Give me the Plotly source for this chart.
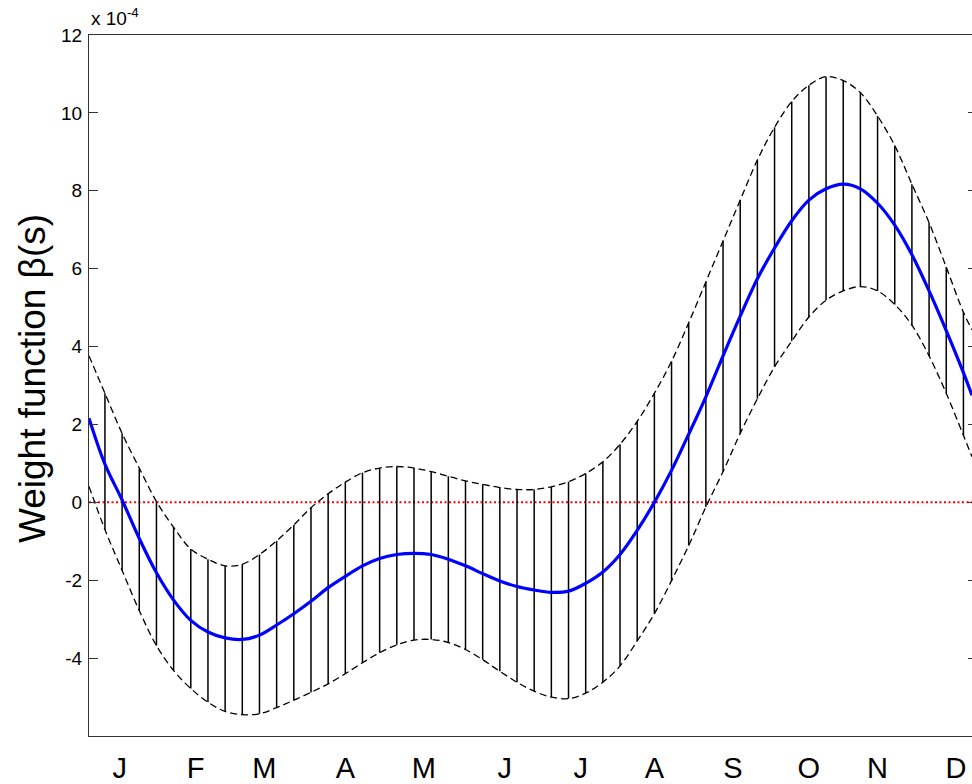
import plotly.graph_objects as go

# ---- data (values in units of 1e-4) ----
curve_days = [0.5, 7, 14, 21, 28, 35, 42, 49, 56, 63, 70, 77, 84, 91,
              98, 105, 112, 119, 126, 133, 140, 147, 154, 161, 168, 175, 182,
              189, 196, 203, 210, 217, 224, 231, 238, 245, 252, 259, 266, 273,
              280, 287, 294, 301, 308, 315, 322, 329, 336, 343, 350, 357, 360.5]

mean_vals = [2.16, 0.98, 0.06, -0.93, -1.81, -2.51, -3.03, -3.33, -3.48, -3.52, -3.41, -3.15, -2.86, -2.54,
             -2.19, -1.90, -1.63, -1.44, -1.34, -1.31, -1.34, -1.46, -1.63, -1.83, -2.02, -2.16, -2.25,
             -2.31, -2.28, -2.08, -1.79, -1.34, -0.72, 0.00, 0.82, 1.75, 2.71, 3.76, 4.78, 5.74,
             6.53, 7.23, 7.76, 8.05, 8.17, 8.05, 7.68, 7.12, 6.36, 5.43, 4.41, 3.33, 2.75]

upper_vals = [3.76, 2.80, 1.77, 0.88, 0.02, -0.64, -1.20, -1.46, -1.63, -1.59, -1.34, -0.99, -0.58, -0.14,
              0.22, 0.52, 0.76, 0.88, 0.92, 0.88, 0.79, 0.67, 0.55, 0.46, 0.38, 0.33, 0.33,
              0.40, 0.53, 0.74, 1.04, 1.49, 2.08, 2.80, 3.62, 4.61, 5.66, 6.71, 7.76, 8.79,
              9.63, 10.29, 10.71, 10.93, 10.83, 10.52, 9.92, 9.16, 8.17, 7.18, 6.04, 4.88, 4.43]

lower_vals = [0.41, -0.70, -1.75, -2.78, -3.68, -4.32, -4.78, -5.13, -5.37, -5.45, -5.43, -5.27, -5.08, -4.88,
              -4.66, -4.40, -4.12, -3.86, -3.66, -3.54, -3.52, -3.60, -3.78, -4.04, -4.34, -4.62, -4.85,
              -5.00, -5.04, -4.90, -4.62, -4.20, -3.56, -2.86, -2.01, -1.11, -0.12, 0.79, 1.77, 2.66,
              3.48, 4.14, 4.76, 5.19, 5.43, 5.54, 5.43, 5.08, 4.55, 3.76, 2.80, 1.72, 1.17]

month_labels = ["J", "F", "M", "A", "M", "J", "J", "A", "S", "O", "N", "D"]
month_pos = [13, 44, 72, 105, 137, 170, 201, 231, 263, 294, 322, 354]

y_ticks = [-4, -2, 0, 2, 4, 6, 8, 10, 12]
y_ticktext = ["-4", "-2", "0", "2", "4", "6", "8", "10", "12"]

x_range = [0.5, 360.5]
y_range = [-6, 12]

FONT = "Liberation Sans, Arial, Helvetica, sans-serif"

# vertical confidence bars at the weekly points (skip the two edge points)
bar_x, bar_y = [], []
for d, lo, hi in zip(curve_days[1:-1], lower_vals[1:-1], upper_vals[1:-1]):
    bar_x += [d, d, None]
    bar_y += [lo, hi, None]

fig = go.Figure()

# zero reference line
fig.add_trace(go.Scatter(x=x_range, y=[0, 0], mode="lines",
                         line=dict(color="#ff0000", width=2, dash="2px,2.5px"),
                         hoverinfo="skip", showlegend=False))

fig.add_trace(go.Scatter(x=bar_x, y=bar_y, mode="lines",
                         line=dict(color="black", width=1.5),
                         hoverinfo="skip", showlegend=False))

for vals in (upper_vals, lower_vals):
    fig.add_trace(go.Scatter(x=curve_days, y=vals, mode="lines",
                             line=dict(color="black", width=1.3, dash="7px,4px",
                                       shape="spline", smoothing=1.0),
                             hoverinfo="skip", showlegend=False))

fig.add_trace(go.Scatter(x=curve_days, y=mean_vals, mode="lines",
                         line=dict(color="#0000ff", width=3.2, shape="spline", smoothing=1.0),
                         showlegend=False))

# invisible trace for right-side tick marks
fig.add_trace(go.Scatter(x=x_range, y=y_range, yaxis="y2", mode="lines",
                         line=dict(width=0), opacity=0, hoverinfo="skip", showlegend=False))

fig.update_layout(
    width=972, height=784,
    margin=dict(l=89, r=0, t=35, b=44),
    paper_bgcolor="white", plot_bgcolor="white",
    font=dict(family=FONT, color="black"),
    xaxis=dict(range=x_range, showgrid=False, zeroline=False,
               showline=True, mirror=True, linecolor="#333", linewidth=1,
               ticks="", tickvals=month_pos, ticktext=month_labels,
               ticklabelstandoff=6,
               tickfont=dict(size=29, family=FONT, color="black")),
    yaxis=dict(range=y_range, showgrid=False, zeroline=False,
               showline=True, mirror=False, linecolor="#333", linewidth=1,
               ticks="inside", ticklen=9, tickcolor="#333",
               tickvals=y_ticks, ticktext=y_ticktext,
               ticklabelstandoff=2,
               tickfont=dict(size=19, family=FONT, color="black")),
    yaxis2=dict(range=y_range, overlaying="y", side="right", showgrid=False,
                zeroline=False, showline=False, ticks="inside", ticklen=4,
                tickcolor="#333", tickvals=y_ticks, showticklabels=False),
    annotations=[
        dict(text="Weight function β(s)", textangle=-90, showarrow=False,
             xref="paper", yref="paper", x=(32 - 89) / 883, y=(740 - 381) / 705,
             xanchor="center", yanchor="middle",
             font=dict(size=37, family=FONT, color="black")),
        dict(text="x 10<sup>-4</sup>", showarrow=False,
             xref="paper", yref="paper", x=0.0, y=1.0, yshift=4,
             xanchor="left", yanchor="bottom",
             font=dict(size=19, family=FONT, color="black")),
    ],
)

fig.write_html(
    "out.html",
    config={"displayModeBar": False},
    post_script="document.body.style.margin='0';document.body.style.padding='0';"
                "document.body.style.overflow='hidden';",
)
